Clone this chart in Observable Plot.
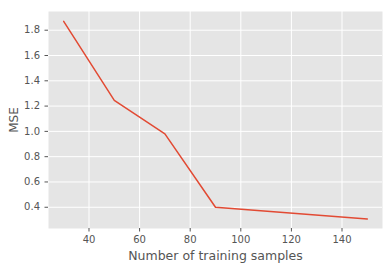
<!DOCTYPE html>
<html>
<head>
<meta charset="utf-8">
<script src="https://cdn.jsdelivr.net/npm/d3@7"></script>
<script src="https://cdn.jsdelivr.net/npm/@observablehq/plot@0.6"></script>
<style>
  html, body { margin: 0; padding: 0; background: #fff; }
  svg { display: block; font-family: "DejaVu Sans", sans-serif; }
</style>
</head>
<body>
<div id="chart"></div>
<script>
const samples = [30, 50, 70, 90, 150];
const mse = [1.87, 1.245, 0.98, 0.40, 0.308];
const xTicks = [40, 60, 80, 100, 120, 140];
const yTicks = [0.4, 0.6, 0.8, 1.0, 1.2, 1.4, 1.6, 1.8];
const xLabel = "Number of training samples";
const yLabel = "MSE";

const data = samples.map((s, i) => ({x: s, y: mse[i]}));

const chart = Plot.plot({
  width: 392,
  height: 269,
  marginLeft: 48,
  marginTop: 11,
  marginRight: 10,
  marginBottom: 41,
  style: {fontFamily: "DejaVu Sans, sans-serif", background: "white"},
  x: {domain: [24, 156]},
  y: {domain: [0.232, 1.948]},
  marks: [
    Plot.frame({fill: "#E5E5E5", stroke: "none"}),
    Plot.gridX(xTicks, {stroke: "white", strokeOpacity: 1, strokeWidth: 1}),
    Plot.gridY(yTicks, {stroke: "white", strokeOpacity: 1, strokeWidth: 1}),
    Plot.axisX(xTicks, {tickSize: 3.5, tickPadding: 3.5, stroke: "#555", fill: "#555", fontSize: 10, label: null, tickFormat: d => String(d)}),
    Plot.axisY(yTicks, {tickSize: 3.5, tickPadding: 5, stroke: "#555", fill: "#555", fontSize: 10, label: null, tickFormat: d => d.toFixed(1)}),
    Plot.line(data, {x: "x", y: "y", stroke: "#E24A33", strokeWidth: 1.5}),
    Plot.text([xLabel], {text: d => d, frameAnchor: "bottom", dy: 27.5, lineAnchor: "middle", fontSize: 12.5, fill: "#555"}),
    Plot.text([yLabel], {text: d => d, frameAnchor: "left", dx: -34, rotate: -90, textAnchor: "middle", lineAnchor: "middle", fontSize: 12, fill: "#555"})
  ]
});
document.getElementById("chart").appendChild(chart);
</script>
</body>
</html>
